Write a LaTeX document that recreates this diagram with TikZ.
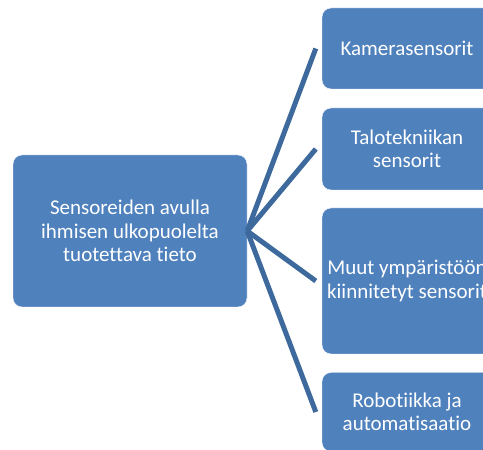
\documentclass[tikz,border=0pt]{standalone}
\usepackage{fontspec}
\setmainfont[Ligatures=NoCommon]{Carlito}
\usepackage{xcolor}
\usepackage{tikz}
\definecolor{boxblue}{RGB}{79,129,189}
\definecolor{lineblue}{RGB}{61,105,156}

\begin{document}
\begin{tikzpicture}[x=1pt,y=1pt,
  blok/.style={draw=white, thin, fill=boxblue, rounded corners=9pt, text=white,
    align=center, inner sep=0pt, minimum width=170pt,
    font=\fontsize{21}{23.5}\selectfont},
  haara/.style={lineblue, line width=5pt}]
\clip (0,0) rectangle (483,450);

\node[blok, minimum width=234pt, minimum height=152pt] (tieto) at (130,219) {Sensoreiden avulla\\ihmisen ulkopuolelta\\tuotettava tieto};

\node[blok, minimum height=81pt] (kamera) at (407,401.5) {Kamerasensorit};
\node[blok, minimum height=82pt] (talo) at (407,301) {Talotekniikan\\sensorit};
\node[blok, minimum height=146pt] (muut) at (407,169) {Muut ympäristöön\\kiinnitetyt sensorit};
\node[blok, minimum height=79pt] (robo) at (407,38) {Robotiikka ja\\automatisaatio};

\draw[haara] (tieto.east) -- ([xshift=-6pt]kamera.west);
\draw[haara] (tieto.east) -- ([xshift=-6pt]talo.west);
\draw[haara] (tieto.east) -- ([xshift=-6pt]muut.west);
\draw[haara] (tieto.east) -- ([xshift=-6pt]robo.west);
\end{tikzpicture}
\end{document}
